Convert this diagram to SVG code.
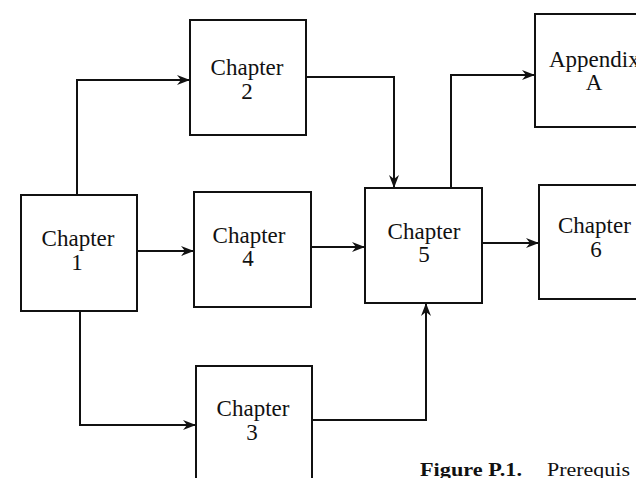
<svg xmlns="http://www.w3.org/2000/svg" width="636" height="478" viewBox="0 0 636 478">
  <style>
    .box { fill: #fff; stroke: #111; stroke-width: 2; }
    .lbl { font-family: "Liberation Serif", "Times New Roman", serif; font-size: 23px; fill: #111; text-anchor: middle; }
    .wire { fill: none; stroke: #111; stroke-width: 2; marker-end: url(#head); }
    .cap { font-family: "Liberation Serif", "Times New Roman", serif; font-size: 18px; fill: #111; }
  </style>
  <defs>
    <marker id="head" markerUnits="userSpaceOnUse" markerWidth="14" markerHeight="10" refX="13" refY="5" orient="auto">
      <path d="M0,0 L13,5 L0,10 L4,5 z" fill="#111"/>
    </marker>
  </defs>
  <rect width="636" height="478" fill="#fff"/>

  <g id="connectors">
    <polyline class="wire" points="77,195 77,80 190,80"/>
    <polyline class="wire" points="306,77 394,77 394,188"/>
    <polyline class="wire" points="451,188 451,75 535,75"/>
    <line class="wire" x1="137" y1="251" x2="194" y2="251"/>
    <line class="wire" x1="311" y1="247" x2="365" y2="247"/>
    <line class="wire" x1="482" y1="243" x2="539" y2="243"/>
    <polyline class="wire" points="80,311 80,425 196,425"/>
    <polyline class="wire" points="312,420 426,420 426,303"/>
  </g>

  <g id="chapter1">
    <rect class="box" x="21" y="195" width="116" height="116"/>
    <text class="lbl" x="78" y="246">Chapter</text>
    <text class="lbl" x="77" y="270">1</text>
  </g>
  <g id="chapter2">
    <rect class="box" x="190" y="20" width="116" height="115"/>
    <text class="lbl" x="247" y="75">Chapter</text>
    <text class="lbl" x="247" y="99">2</text>
  </g>
  <g id="chapter4">
    <rect class="box" x="194" y="192" width="117" height="115"/>
    <text class="lbl" x="249" y="243">Chapter</text>
    <text class="lbl" x="248" y="266">4</text>
  </g>
  <g id="chapter3">
    <rect class="box" x="196" y="366" width="116" height="130"/>
    <text class="lbl" x="253" y="416">Chapter</text>
    <text class="lbl" x="252" y="440">3</text>
  </g>
  <g id="chapter5">
    <rect class="box" x="365" y="188" width="117" height="115"/>
    <text class="lbl" x="424" y="239">Chapter</text>
    <text class="lbl" x="424" y="262">5</text>
  </g>
  <g id="appendixA">
    <rect class="box" x="535" y="14" width="120" height="113"/>
    <text class="lbl" x="549" y="67" style="text-anchor:start">Appendix</text>
    <text class="lbl" x="594" y="90">A</text>
  </g>
  <g id="chapter6">
    <rect class="box" x="539" y="185" width="120" height="114"/>
    <text class="lbl" x="558" y="233" style="text-anchor:start">Chapter</text>
    <text class="lbl" x="596" y="257">6</text>
  </g>

  <g id="caption">
    <text class="cap" x="420" y="476" font-weight="bold" textLength="102" lengthAdjust="spacingAndGlyphs">Figure P.1.</text>
    <text class="cap" x="547" y="476" textLength="83" lengthAdjust="spacingAndGlyphs">Prerequis</text>
  </g>
</svg>
